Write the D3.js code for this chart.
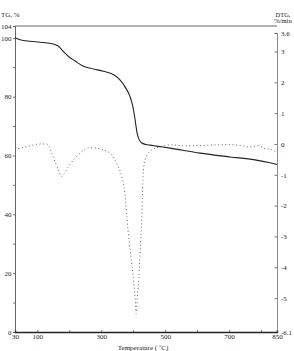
<!DOCTYPE html>
<html><head><meta charset="utf-8">
<script src="https://cdn.jsdelivr.net/npm/d3@7"></script>
<style>
html,body{margin:0;padding:0;background:#fff;}
svg text{font-family:"Liberation Serif","Times New Roman",serif;fill:#222;}
</style></head>
<body>
<svg id="c" width="294" height="351"></svg>
<script>
// ---- data ----
const tgTemp = [30,46,77,108,150,166,181,197,218,244,276,307,338,359,374,390,398,404,408,412,417,425,440,453,478,515,609,703,781,828,850];
const tgVal  = [100,99.3,98.8,98.5,97.9,97.1,95.4,93.7,92.1,90.3,89.4,88.6,87.5,85.6,83.4,80.0,77.0,73.5,70.5,67.7,65.8,64.4,63.7,63.5,63.1,62.5,60.8,59.5,58.5,57.5,56.9];

const dtgTemp = [30,46,77,108,129,137,145,155,166,176,181,197,218,239,259,286,306,325,333,348,364,374,380,388,395,402,407,409,413,419,423,427,430,434,447,458,484,515,562,609,656,703,734,766,791,813,834,847];
const dtgVal  = [-0.19,-0.14,-0.06,0.0,0.0,-0.09,-0.30,-0.57,-0.84,-1.06,-1.01,-0.74,-0.46,-0.25,-0.12,-0.14,-0.19,-0.28,-0.36,-0.63,-1.06,-1.60,-2.36,-3.22,-3.86,-4.51,-5.16,-5.50,-4.96,-4.09,-3.22,-2.36,-1.28,-0.63,-0.30,-0.19,-0.10,-0.03,-0.06,-0.05,-0.03,-0.02,-0.05,-0.10,-0.06,-0.15,-0.19,-0.26];

const xTickVals = [30,100,200,300,400,500,600,700,800,850];
const xTickLabels = ["30","100","","300","","500","","700","","850"];
const yLTickVals = [0,10,20,30,40,50,60,70,80,90,100,104];
const yLTickLabels = ["0","","20","","40","","60","","80","","100","104"];
const yRTickVals = [3.6,3,2,1,0,-1,-2,-3,-4,-5,-6.1];
const yRTickLabels = ["3.6","3","2","1","0","-1","-2","-3","-4","-5","-6.1"];

// ---- scales ----
const svg = d3.select("#c");
const x = d3.scaleLinear().domain([30,850]).range([15,277]);
const yL = d3.scaleLinear().domain([0,104]).range([332,26]);
const yR = d3.scaleLinear().domain([-6.1,3.6]).range([332,33]);

// frame top line
svg.append("line").attr("x1",x(30)).attr("x2",x(850)).attr("y1",yL(104)).attr("y2",yL(104))
  .attr("stroke","#666").attr("stroke-width",1.2);

// left axis
const gL = svg.append("g").attr("transform",`translate(${x(30)},0)`)
  .call(d3.axisLeft(yL).tickValues(yLTickVals).tickSize(2).tickPadding(1.5)
    .tickFormat((d,i)=>yLTickLabels[i]));
// right axis
const gR = svg.append("g").attr("transform",`translate(${x(850)},0)`)
  .call(d3.axisRight(yR).tickValues(yRTickVals).tickSize(-2.5).tickPadding(4)
    .tickFormat((d,i)=>yRTickLabels[i]));
// bottom axis
const gB = svg.append("g").attr("transform",`translate(0,${yL(0)})`)
  .call(d3.axisBottom(x).tickValues(xTickVals).tickSize(-2).tickPadding(2.5)
    .tickFormat((d,i)=>xTickLabels[i]));

[gL,gR,gB].forEach(g=>{
  g.selectAll("text").attr("font-size",7).attr("font-family","Liberation Serif").attr("fill","#222");
  g.selectAll("line").attr("stroke","#555").attr("stroke-width",0.8);
});
gL.select(".domain").attr("stroke","#666").attr("stroke-width",1);
gR.select(".domain").attr("stroke","#888").attr("stroke-width",1);
gB.select(".domain").attr("stroke","#222").attr("stroke-width",1.4);

// curves
const tgData = tgTemp.map((t,i)=>[t,tgVal[i]]);
const dtgData = dtgTemp.map((t,i)=>[t,dtgVal[i]]);

svg.append("path").datum(dtgData)
  .attr("d", d3.line().x(d=>x(d[0])).y(d=>yR(d[1])).curve(d3.curveMonotoneX))
  .attr("fill","none").attr("stroke","#555").attr("stroke-width",0.9)
  .attr("stroke-dasharray","1,2.6");

svg.append("path").datum(tgData)
  .attr("d", d3.line().x(d=>x(d[0])).y(d=>yL(d[1])).curve(d3.curveMonotoneX))
  .attr("fill","none").attr("stroke","#222").attr("stroke-width",1.1);

// titles
svg.append("text").attr("x",1).attr("y",16.5).attr("font-size",7).text("TG, %");
svg.append("text").attr("x",283).attr("y",16.5).attr("font-size",6.5).attr("text-anchor","middle").text("DTG,");
svg.append("text").attr("x",283).attr("y",23).attr("font-size",6.5).attr("text-anchor","middle").text("%/min");
svg.append("text").attr("x",143).attr("y",349.5).attr("font-size",7).attr("text-anchor","middle").text("Temperature ( \u02DAC)");
</script>
</body></html>
